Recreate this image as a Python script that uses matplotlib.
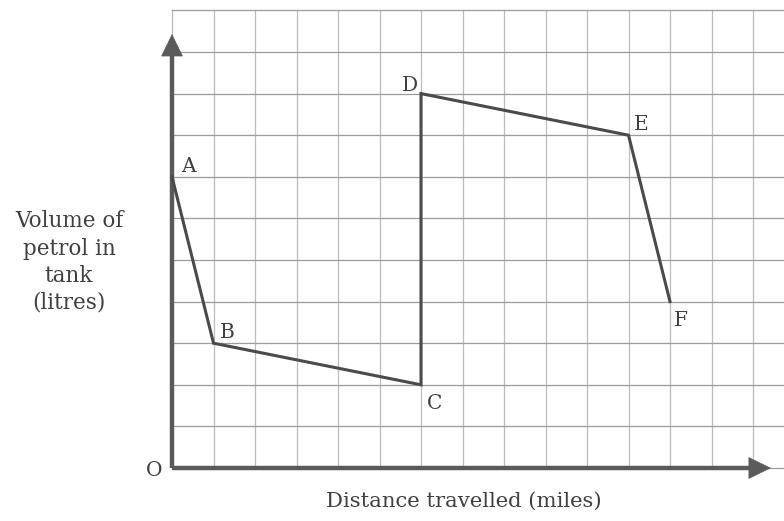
import matplotlib as mpl
mpl.use('Agg')
import matplotlib.pyplot as plt

# journey points: distance (grid squares) and petrol volume (grid squares)
point_names = ['A', 'B', 'C', 'D', 'E', 'F']
distance = [0, 1, 6, 6, 11, 12]
volume = [7, 3, 2, 9, 8, 4]
# label offsets in grid units
label_dx = [0.22, 0.15, 0.15, -0.47, 0.12, 0.1]
label_dy = [0.25, 0.25, -0.45, 0.2, 0.25, -0.45]

plt.rcParams['font.family'] = ['DejaVu Serif']
AX = '#5a5a5a'
TXT = '#404040'

fig = plt.figure(figsize=(7.84, 5.21), dpi=100)
ax = fig.add_axes([0, 0, 1, 1])
ax.set_xlim(-4.145, 14.747)
ax.set_ylim(-1.274, 11.25)
ax.axis('off')

# squared paper
for gx in range(0, 15):
    ax.plot([gx, gx], [0, 11], color='#bcbcbc', lw=0.9, zorder=1)
for gy in range(0, 12):
    ax.plot([0, 14.75], [gy, gy], color='#9c9c9c', lw=0.9, zorder=1)

# axes with arrow heads
ax.plot([0, 0], [0, 10.2], color=AX, lw=3.2, solid_capstyle='butt', zorder=3)
ax.plot([0, 14.2], [0, 0], color=AX, lw=3.2, solid_capstyle='butt', zorder=3)
ax.annotate('', xy=(0, 10.5), xytext=(0, 9.9),
            arrowprops=dict(arrowstyle='-|>,head_length=0.45,head_width=0.22',
                            color=AX, lw=0.5, mutation_scale=34), zorder=4)
ax.annotate('', xy=(14.5, 0), xytext=(13.9, 0),
            arrowprops=dict(arrowstyle='-|>,head_length=0.45,head_width=0.22',
                            color=AX, lw=0.5, mutation_scale=34), zorder=4)

ax.plot(distance, volume, color='#4a4a4a', lw=2.2, solid_joinstyle='miter', zorder=5)

for name, x, y, dx, dy in zip(point_names, distance, volume, label_dx, label_dy):
    ax.text(x + dx, y + dy, name, fontsize=14.5, color=TXT, ha='left', va='center', zorder=6)

ax.text(-0.42, -0.05, 'O', fontsize=14.5, color=TXT, ha='center', va='center')
ax.text(-2.48, 4.95, 'Volume of\npetrol in\ntank\n(litres)', fontsize=15.5, color=TXT,
        ha='center', va='center', linespacing=1.3)
ax.text(7.03, -0.8, 'Distance travelled (miles)', fontsize=15.2, color=TXT,
        ha='center', va='center')

fig.savefig('out.png', dpi=100)
